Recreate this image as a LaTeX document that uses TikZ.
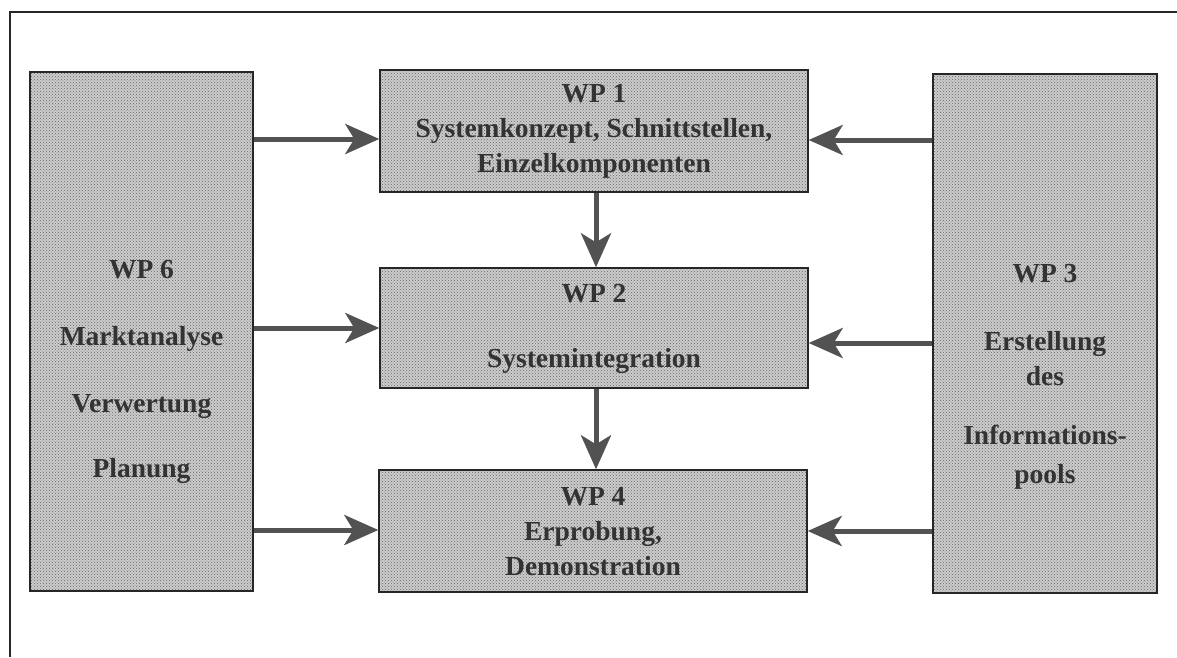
\documentclass[tikz,border=0pt]{standalone}
\usepackage{fontspec}
\setmainfont{Liberation Serif}
\usetikzlibrary{arrows.meta,patterns}
\tikzset{
  wpbox/.style={draw=black!85, line width=1.4pt, preaction={fill=black!20},
    pattern=crosshatch dots, pattern color=black!60, inner sep=0pt},
  wptext/.style={align=center, text=black!80, font=\fontsize{27.5}{35}\selectfont\bfseries, inner sep=0pt},
  flow/.style={draw=black!68, line width=5pt,
    -{Stealth[length=34pt, width=30pt, inset=9pt, fill=black!68]}},
  frameline/.style={draw=black!85, line width=1.3pt}
}
\begin{document}
\begin{tikzpicture}[x=1pt, y=-1pt]
\useasboundingbox (0,0) rectangle (1177,657);
% frame
\coordinate (fTR) at (1177,12);
\coordinate (fTL) at (10,12);
\coordinate (fBL) at (10,657);
\draw[frameline] (fTR) -- (fTL) -- (fBL);
% boxes
\node[wpbox, minimum width=223pt, minimum height=519pt] (wp6) at (141.5,331.5) {};
\node[wpbox, minimum width=224pt, minimum height=519pt] (wp3) at (1045,333.5) {};
\node[wpbox, minimum width=428pt, minimum height=122pt] (wp1) at (594,131) {};
\node[wpbox, minimum width=428pt, minimum height=120pt] (wp2) at (594,328) {};
\node[wpbox, minimum width=428pt, minimum height=122pt] (wp4) at (593,531) {};
% texts
\node[wptext] (t1) at (594,131) {WP 1\\Systemkonzept, Schnittstellen,\\Einzelkomponenten};
\node[wptext] (t2) at (594,329) {WP 2\\[30pt]Systemintegration};
\node[wptext] (t4) at (593,532) {WP 4\\Erprobung,\\Demonstration};
\node[wptext] (t6) at (141.5,372) {WP 6\\[32pt]Marktanalyse\\[32pt]Verwertung\\[30pt]Planung};
\node[wptext] (t3) at (1045,377) {WP 3\\[33pt]Erstellung\\des\\[24pt]Informations-\\[4pt]pools};
% arrows
\draw[flow] (wp6.east |- 0,139) -- (wp1.west |- 0,139);
\draw[flow] (wp6.east |- 0,328) -- (wp2.west |- 0,328);
\draw[flow] (wp6.east |- 0,530) -- (wp4.west |- 0,530);
\draw[flow] (wp3.west |- 0,140) -- (wp1.east |- 0,140);
\draw[flow] (wp3.west |- 0,343) -- (wp2.east |- 0,343);
\draw[flow] (wp3.west |- 0,531) -- (wp4.east |- 0,531);
\draw[flow] (wp1.south -| 596,0) -- (wp2.north -| 596,0);
\draw[flow] (wp2.south -| 596,0) -- (wp4.north -| 596,0);
\end{tikzpicture}
\end{document}
